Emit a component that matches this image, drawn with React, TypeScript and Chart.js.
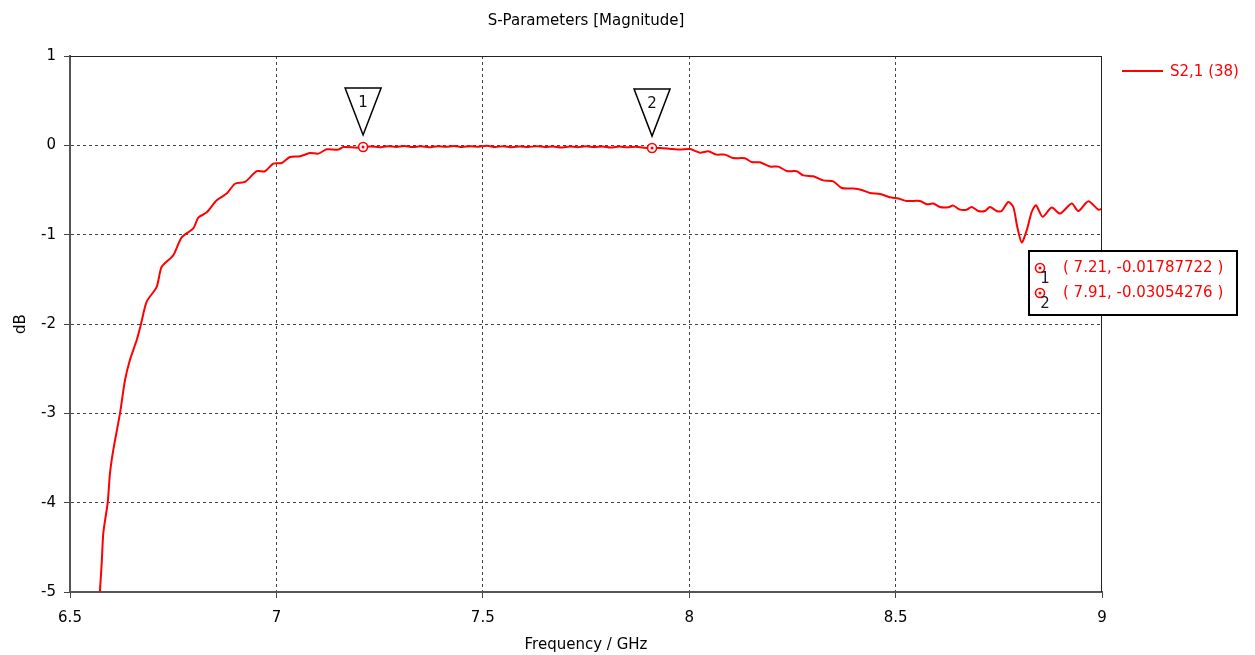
import { useEffect, useRef } from "react";
import { Chart, registerables } from "chart.js";

Chart.register(...registerables);

const chartTitle = "S-Parameters [Magnitude]";
const xTitle = "Frequency / GHz";
const yTitle = "dB";
const seriesName = "S2,1 (38)";

const freqGHz = [
  6.572, 6.5768, 6.5807, 6.5913, 6.5969, 6.6049, 6.6211, 6.6332, 6.6453, 6.6616,
  6.672, 6.6858, 6.71, 6.7221, 6.7502, 6.7706, 6.7987, 6.8108, 6.8312, 6.8554,
  6.8796, 6.8997, 6.9239, 6.9523, 6.9724, 6.9925, 7.0128, 7.0329, 7.0572, 7.0814,
  7.1015, 7.1219, 7.15, 7.1621, 7.1945, 7.21,
  7.23, 7.25, 7.27, 7.29, 7.31, 7.33, 7.35, 7.37, 7.39, 7.41,
  7.43, 7.45, 7.47, 7.49, 7.51, 7.53, 7.55, 7.57, 7.59, 7.61,
  7.63, 7.65, 7.67, 7.69, 7.71, 7.73, 7.75, 7.77, 7.79, 7.81,
  7.83, 7.85, 7.87, 7.89, 7.91, 7.93, 7.955, 7.9777,
  8.002, 8.0262, 8.0463, 8.0665, 8.0867, 8.1068, 8.1352, 8.1514, 8.1715, 8.1957,
  8.2159, 8.2361, 8.2603, 8.2764, 8.3007, 8.3249, 8.3491, 8.3694, 8.3975, 8.4178,
  8.438, 8.4622, 8.4864, 8.5065, 8.5269, 8.5591, 8.5753, 8.5913, 8.6076, 8.6277,
  8.6398, 8.656, 8.6722, 8.6843, 8.7003, 8.7165, 8.7287, 8.7448, 8.7569, 8.773,
  8.7851, 8.7948, 8.8055, 8.8176, 8.8297, 8.84, 8.8563, 8.878, 8.8983, 8.9266,
  8.9427, 8.9669, 8.9911, 9.0,
];

const s21dB = [
  -5.02, -4.68, -4.34, -4.0, -3.67, -3.41, -3.0, -2.63, -2.4, -2.18,
  -2.0, -1.75, -1.585, -1.36, -1.23, -1.03, -0.93, -0.81, -0.75, -0.615,
  -0.54, -0.43, -0.41, -0.29, -0.29, -0.205, -0.198, -0.13, -0.123, -0.086,
  -0.093, -0.045, -0.048, -0.019, -0.026, -0.0179,
  -0.012, -0.022, -0.01, -0.018, -0.008, -0.02, -0.011, -0.021, -0.009, -0.017,
  -0.007, -0.019, -0.01, -0.016, -0.006, -0.018, -0.011, -0.022, -0.012, -0.02,
  -0.009, -0.019, -0.013, -0.024, -0.012, -0.021, -0.01, -0.02, -0.014, -0.025,
  -0.013, -0.022, -0.016, -0.026, -0.0305, -0.029, -0.04, -0.048,
  -0.041, -0.082, -0.067, -0.104, -0.104, -0.142, -0.145, -0.187, -0.19, -0.238,
  -0.238, -0.287, -0.291, -0.336, -0.347, -0.392, -0.403, -0.478, -0.484, -0.5,
  -0.533, -0.545, -0.582, -0.596, -0.623, -0.623, -0.66, -0.652, -0.69, -0.693,
  -0.675, -0.72, -0.72, -0.69, -0.735, -0.735, -0.69, -0.735, -0.735, -0.634,
  -0.69, -0.914, -1.088, -0.951, -0.746, -0.671, -0.8, -0.697, -0.764, -0.652,
  -0.735, -0.626, -0.72, -0.71,
];

const markerLabels = ["1", "2"];
const markerFreqs = [7.21, 7.91];
const markerValues = [-0.01787722, -0.03054276];

const xMin = 6.5;
const xMax = 9;
const xStep = 0.5;
const yMin = -5;
const yMax = 1;
const yStep = 1;

const FONT = "'DejaVu Sans', sans-serif";
const RED = "#ff0000";

function drawMarkerIcon(ctx: CanvasRenderingContext2D, x: number, y: number) {
  ctx.save();
  ctx.beginPath();
  ctx.arc(x, y, 4.5, 0, Math.PI * 2);
  ctx.fillStyle = "#ffffff";
  ctx.fill();
  ctx.lineWidth = 1.6;
  ctx.strokeStyle = RED;
  ctx.stroke();
  ctx.beginPath();
  ctx.arc(x, y, 1.5, 0, Math.PI * 2);
  ctx.fillStyle = RED;
  ctx.fill();
  ctx.restore();
}

const decorPlugin = {
  id: "decor",
  afterDatasetsDraw(chart: any) {
    const { ctx, chartArea, scales } = chart;
    const xs = scales.x;
    const ys = scales.y;
    ctx.save();
    // top and right frame
    ctx.strokeStyle = "#222";
    ctx.lineWidth = 1;
    ctx.beginPath();
    ctx.moveTo(chartArea.left, chartArea.top + 0.5);
    ctx.lineTo(chartArea.right, chartArea.top + 0.5);
    ctx.moveTo(chartArea.right - 0.5, chartArea.top);
    ctx.lineTo(chartArea.right - 0.5, chartArea.bottom);
    ctx.stroke();

    // markers
    markerFreqs.forEach((f, i) => {
      const px = xs.getPixelForValue(f);
      const py = ys.getPixelForValue(markerValues[i]);
      const apexY = py - 12;
      const topY = apexY - 47;
      ctx.beginPath();
      ctx.moveTo(px - 18, topY);
      ctx.lineTo(px + 18, topY);
      ctx.lineTo(px, apexY);
      ctx.closePath();
      ctx.fillStyle = "#ffffff";
      ctx.fill();
      ctx.strokeStyle = "#000";
      ctx.lineWidth = 1.5;
      ctx.stroke();
      ctx.fillStyle = "#111";
      ctx.font = `15px ${FONT}`;
      ctx.textAlign = "center";
      ctx.textBaseline = "middle";
      ctx.fillText(markerLabels[i], px, topY + 15);
      drawMarkerIcon(ctx, px, py);
    });

    // info box
    const bx = 1029, by = 251, bw = 208, bh = 64;
    ctx.fillStyle = "#ffffff";
    ctx.fillRect(bx, by, bw, bh);
    ctx.strokeStyle = "#000";
    ctx.lineWidth = 2;
    ctx.strokeRect(bx, by, bw, bh);
    markerFreqs.forEach((f, i) => {
      const cy = by + 17 + i * 25;
      drawMarkerIcon(ctx, bx + 11, cy);
      ctx.fillStyle = "#1a1a2a";
      ctx.font = `15px ${FONT}`;
      ctx.textAlign = "center";
      ctx.textBaseline = "middle";
      ctx.fillText(markerLabels[i], bx + 16, cy + 11);
      ctx.fillStyle = RED;
      ctx.textAlign = "left";
      ctx.fillText(`( ${f}, ${markerValues[i]} )`, bx + 34, cy);
    });

    // legend
    ctx.strokeStyle = RED;
    ctx.lineWidth = 2;
    ctx.beginPath();
    ctx.moveTo(1122, 71);
    ctx.lineTo(1163, 71);
    ctx.stroke();
    ctx.fillStyle = RED;
    ctx.font = `15px ${FONT}`;
    ctx.textAlign = "left";
    ctx.textBaseline = "middle";
    ctx.fillText(seriesName, 1170, 72);

    // titles
    const cx = (chartArea.left + chartArea.right) / 2;
    ctx.fillStyle = "#000";
    ctx.textAlign = "center";
    ctx.fillText(chartTitle, cx, 21);
    ctx.fillText(xTitle, cx, 645);
    ctx.translate(21, (chartArea.top + chartArea.bottom) / 2);
    ctx.rotate(-Math.PI / 2);
    ctx.fillText(yTitle, 0, 0);
    ctx.restore();
  },
};

export default function App() {
  const ref = useRef<HTMLCanvasElement | null>(null);

  useEffect(() => {
    document.body.style.margin = "0";
    const canvas = ref.current;
    if (!canvas) return;
    const edgeX = (v: number) => v === xMin || v === xMax;
    const edgeY = (v: number) => v === yMin || v === yMax;
    const chart = new Chart(canvas, {
      type: "line",
      data: {
        datasets: [
          {
            label: seriesName,
            data: freqGHz.map((f, i) => ({ x: f, y: s21dB[i] })),
            borderColor: RED,
            backgroundColor: RED,
            borderWidth: 2,
            pointRadius: 0,
            tension: 0.25,
            fill: false,
          },
        ],
      },
      options: {
        responsive: false,
        animation: false,
        events: [],
        layout: { padding: { top: 56, right: 153, left: 0, bottom: 0 } },
        plugins: {
          legend: { display: false },
          title: { display: false },
          tooltip: { enabled: false },
        },
        scales: {
          x: {
            type: "linear",
            min: xMin,
            max: xMax,
            afterFit: (s: any) => {
              s.height = 63;
            },
            afterBuildTicks: (s: any) => {
              const t = [];
              for (let v = xMin; v <= xMax + 1e-9; v += xStep) t.push({ value: Math.round(v * 10) / 10 });
              s.ticks = t;
            },
            ticks: {
              color: "#000",
              font: { family: FONT, size: 15 },
              padding: 11,
              maxRotation: 0,
              callback: (v: any) => String(v),
            },
            grid: {
              color: (c: any) => (c.tick && edgeX(c.tick.value) ? "rgba(0,0,0,0)" : "#444"),
              lineWidth: 1,
              tickLength: 6,
              tickColor: "#444",
            },
            border: { display: true, color: "#555", width: 2, dash: [3, 3] },
          },
          y: {
            type: "linear",
            min: yMin,
            max: yMax,
            afterFit: (s: any) => {
              s.width = 70;
            },
            afterBuildTicks: (s: any) => {
              const t = [];
              for (let v = yMin; v <= yMax + 1e-9; v += yStep) t.push({ value: v });
              s.ticks = t;
            },
            ticks: {
              color: "#000",
              font: { family: FONT, size: 15 },
              padding: 8,
              callback: (v: any) => String(v),
            },
            grid: {
              color: (c: any) => (c.tick && edgeY(c.tick.value) ? "rgba(0,0,0,0)" : "#444"),
              lineWidth: 1,
              tickLength: 6,
              tickColor: "#444",
            },
            border: { display: true, color: "#555", width: 2, dash: [3, 3] },
          },
        },
      },
      plugins: [decorPlugin],
    } as any);
    return () => chart.destroy();
  }, []);

  return <canvas ref={ref} width={1255} height={655} style={{ display: "block" }} />;
}
